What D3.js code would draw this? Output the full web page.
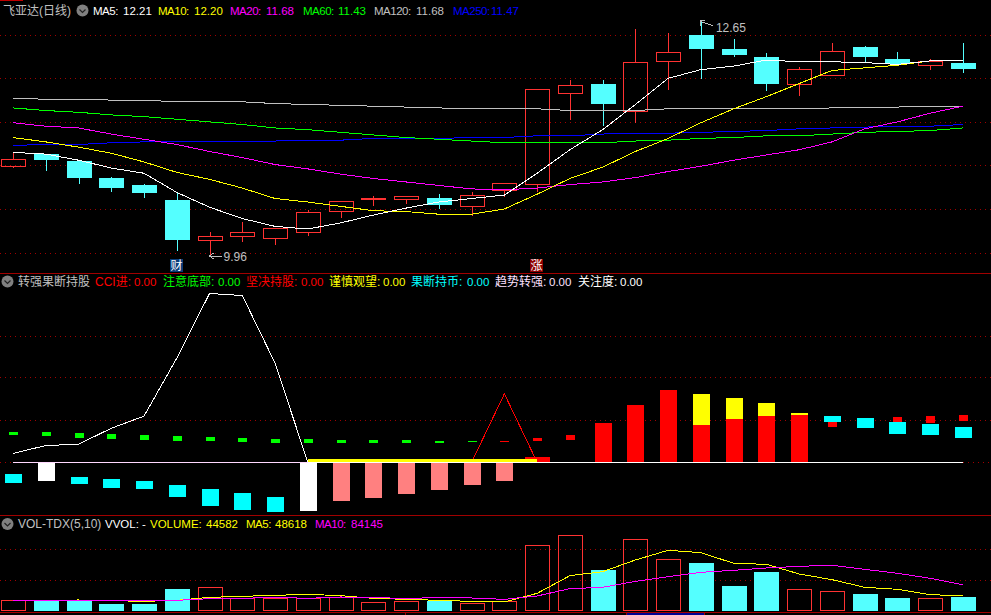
<!DOCTYPE html>
<html><head><meta charset="utf-8">
<script src="https://cdn.jsdelivr.net/npm/d3@7/dist/d3.min.js"></script>
<style>html,body{margin:0;padding:0;background:#000;overflow:hidden}svg{display:block}
text{font-family:"Liberation Sans","Noto Sans CJK SC",sans-serif;font-size:12px}</style>
</head><body><script>
const opens =[10.99,11.13,11.05,10.85,10.78,10.60,10.14,10.19,10.17,10.24,10.48,10.61,10.62,10.63,10.53,10.72,10.79,11.83,11.94,11.63,12.20,12.50,12.34,12.24,11.94,12.04,12.36,12.22,12.15,12.18];
const closes=[11.07,11.06,10.85,10.74,10.68,10.14,10.19,10.23,10.28,10.47,10.59,10.63,10.65,10.55,10.66,10.80,11.88,11.92,11.70,12.19,12.30,12.34,12.27,11.94,12.11,12.31,12.25,12.16,12.20,12.11];
const highs =[11.15,11.13,11.05,10.87,10.79,10.68,10.24,10.35,10.28,10.49,10.59,10.65,10.65,10.67,10.70,10.80,11.88,11.98,11.98,12.57,12.52,12.65,12.45,12.29,12.13,12.40,12.37,12.30,12.22,12.40];
const lows  =[10.97,10.94,10.79,10.70,10.63,10.02,9.96,10.12,10.09,10.19,10.40,10.53,10.56,10.50,10.42,10.64,10.70,11.52,11.45,11.49,11.87,11.99,12.24,11.85,11.80,12.04,12.19,12.16,12.09,12.06];
const ma5  =[11.15,11.13,11.06,10.97,10.91,10.69,10.52,10.39,10.30,10.27,10.34,10.43,10.51,10.58,10.62,10.66,10.91,11.18,11.41,11.70,12.00,12.10,12.14,12.21,12.19,12.19,12.18,12.16,12.20,12.21];
const ma10 =[11.32,11.27,11.21,11.14,11.04,10.92,10.84,10.74,10.62,10.58,10.53,10.48,10.47,10.44,10.44,10.50,10.67,10.85,10.98,11.16,11.31,11.49,11.65,11.79,11.94,12.09,12.12,12.15,12.20,12.20];
const ma20 =[11.49,11.45,11.43,11.36,11.30,11.24,11.16,11.09,11.01,10.96,10.90,10.85,10.81,10.77,10.73,10.72,10.74,10.78,10.81,10.86,10.93,10.99,11.06,11.12,11.18,11.27,11.42,11.50,11.60,11.68];
const ma60 =[11.66,11.63,11.61,11.58,11.56,11.53,11.50,11.47,11.43,11.41,11.38,11.35,11.32,11.30,11.28,11.26,11.26,11.26,11.26,11.28,11.29,11.31,11.32,11.34,11.34,11.36,11.38,11.39,11.40,11.43];
const ma120=[11.77,11.76,11.76,11.75,11.75,11.73,11.73,11.73,11.71,11.70,11.69,11.68,11.67,11.66,11.65,11.65,11.65,11.63,11.63,11.63,11.65,11.65,11.65,11.65,11.65,11.66,11.67,11.67,11.68,11.68];
const ma250=[11.23,11.24,11.24,11.26,11.27,11.27,11.27,11.28,11.28,11.29,11.29,11.31,11.31,11.31,11.32,11.32,11.34,11.34,11.36,11.37,11.37,11.38,11.39,11.40,11.42,11.43,11.44,11.45,11.45,11.47];
const priceGrid=[10,10.5,11,11.5,12,12.5];

const cciLine =[21,40,43,81,110,248,402,397,236,0];
const triangle=[[14,0],[15,163],[16,0]];
const yellowBandFrom=9, yellowBandTo=16, yellowBandValue=7;
// [bar index, low, high]
const greenSticks=[[0,65,72],[1,63,72],[2,58,70],[3,55,67],[4,53,65],[5,51,63],[6,51,60],[7,48,58],[8,46,55],[9,46,55],[10,46,53],[11,46,53],[12,46,53],[13,46,51],[14,49,51]];
const redSmall=[[15,49,51],[16,51,58],[17,53,65],[25,84,96],[27,96,108],[28,94,110],[29,98,113]];
const redMain=[[18,0,94],[19,0,136],[20,0,172],[21,0,89],[22,0,103],[23,0,110],[24,0,113]];
const redBlock=[[16,0,12]];
const yellowMain=[[21,89,163],[22,103,153],[23,110,141],[24,113,117]];
const cyanSticks=[[0,-49,-28],[2,-52,-35],[3,-61,-40],[4,-64,-45],[5,-83,-54],[6,-104,-64],[7,-114,-73],[8,-118,-83],[25,96,110],[26,82,105],[27,67,96],[28,65,91],[29,58,84]];
const whiteSticks=[[1,-45,0],[9,-116,0]];
const pinkSticks=[[10,-92,0],[11,-85,0],[12,-75,0],[13,-66,0],[14,-54,0],[15,-45,0]];
const cciGrid=[100,202,301];

const volume=[34100,32000,33000,22400,22400,70400,75700,41600,41600,41600,44800,27700,30900,32000,24500,30900,210100,242100,131200,229300,165300,153600,80000,124800,69300,62900,54400,41600,40500,44582];
const volMa5=[34100,34100,35200,33100,30900,34100,43700,46900,50100,53300,49100,40500,37300,34100,30900,28800,56600,113100,125900,163300,194200,186700,152600,149400,118400,100300,75800,69400,52300,48618];
const volMa10=[33100,33100,34100,33100,33100,34100,39500,40500,43700,40500,44800,43700,39500,43700,41600,37300,48000,71500,75800,95000,109900,123800,130200,137600,143000,146200,133400,120600,104600,84145];
const volGrid=[98000,197000];

const W=991,H=615;
const svg=d3.select("body").append("svg").attr("width",W).attr("height",H).style("background","#000");
const C={red:"#ff3232",cyan:"#54ffff",grid:"#a00000",sep:"#a00000",gray:"#c0c0c0"};
const idx=d3.range(30);
const x=d3.scaleLinear().domain([0,29]).range([13,963]);
const px=i=>Math.round(x(i));
const yP=d3.scaleLinear().domain([9.96,12.65]).range([256,21.7]);
const yC=d3.scaleLinear().domain([0,300]).range([462.3,336.3]);
const yV=d3.scaleLinear().domain([0,320000]).range([611,511]);
const crisp=g=>g.attr("shape-rendering","crispEdges");

function hgrid(vals,y,x1,x2){
  crisp(svg.append("g")).selectAll("line").data(vals).join("line")
   .attr("x1",x1).attr("x2",x2).attr("y1",d=>Math.round(y(d))+.5).attr("y2",d=>Math.round(y(d))+.5)
   .attr("stroke",C.grid).attr("stroke-dasharray","1 4");
}
hgrid(priceGrid,yP,0,W); hgrid(cciGrid,yC,0,W); hgrid(volGrid,yV,0,W);
hgrid([0],yC,0,13); hgrid([0],yC,963,W);

// separators
crisp(svg.append("g")).selectAll("line").data([273,515,612]).join("line")
 .attr("x1",0).attr("x2",W).attr("y1",d=>d+.5).attr("y2",d=>d+.5).attr("stroke",C.sep);
crisp(svg.append("g")).call(g=>{
 g.append("line").attr("x1",0).attr("x2",23).attr("y1",.5).attr("y2",.5).attr("stroke","#c00000");
 g.append("line").attr("x1",405.5).attr("x2",405.5).attr("y1",612).attr("y2",615).attr("stroke",C.sep);
 g.append("rect").attr("x",627).attr("y",613).attr("width",77).attr("height",2).attr("fill","#000090");
 g.append("line").attr("x1",626.5).attr("x2",626.5).attr("y1",612).attr("y2",615).attr("stroke",C.sep);
 g.append("line").attr("x1",704.5).attr("x2",704.5).attr("y1",612).attr("y2",615).attr("stroke",C.sep);
});

// candles
const cg=crisp(svg.append("g"));
idx.forEach(i=>{
  const up=closes[i]>=opens[i], col=up?C.red:C.cyan, cx=px(i)+.5;
  const top=Math.round(yP(Math.max(opens[i],closes[i]))), bot=Math.round(yP(Math.min(opens[i],closes[i])));
  cg.append("line").attr("x1",cx).attr("x2",cx).attr("y1",yP(highs[i])).attr("y2",top).attr("stroke",col);
  cg.append("line").attr("x1",cx).attr("x2",cx).attr("y1",bot).attr("y2",yP(lows[i])).attr("stroke",col);
  const r=cg.append("rect").attr("x",cx-12).attr("y",top+(up?.5:0)).attr("width",up?24:25).attr("height",bot-top);
  if(up) r.attr("fill","none").attr("stroke",col); else r.attr("x",cx-12.5).attr("fill",col);
});
const line=(data,xf,yf)=>d3.line().x((d,i)=>xf(i)).y(yf)(data);
[[ma120,"#c0c0c0"],[ma250,"#0000ff"],[ma60,"#00ff00"],[ma20,"#ff00ff"],[ma10,"#ffff00"],[ma5,"#ffffff"]].forEach(([d,c])=>{
  svg.append("path").attr("d",line(d,x,yP)).attr("fill","none").attr("stroke",c).attr("stroke-width",1).attr("shape-rendering","crispEdges");
});

// annotations
const ann=svg.append("g").attr("stroke",C.gray).attr("fill","none").attr("shape-rendering","crispEdges");
ann.append("path").attr("d",`M${x(6)} ${yP(9.96)}H${x(6)+12}M${x(6)+4} ${yP(9.96)-3}L${x(6)} ${yP(9.96)}L${x(6)+4} ${yP(9.96)+3}`);
ann.append("path").attr("d",`M${x(21)} ${yP(12.65)}L${x(21)+12} ${yP(12.65)+4}M${x(21)+4} ${yP(12.65)-1}H${x(21)}V${yP(12.65)+4}`);
svg.append("text").attr("x",x(6)+14).attr("y",yP(9.96)+5).attr("fill",C.gray).text("9.96");
svg.append("text").attr("x",x(21)+15).attr("y",yP(12.65)+10).attr("fill",C.gray).text("12.65");

// badges
[["财",5,"#0a3c78","#ffffff"],["涨",16,"#8c0000","#ffffff"]].forEach(([t,i,bg,fg])=>{
  svg.append("rect").attr("x",px(i)-7).attr("y",259).attr("width",13).attr("height",13).attr("fill",bg);
  svg.append("text").attr("x",px(i)-6.5).attr("y",270).attr("fill",fg).text(t);
});

// indicator panel
svg.append("path").attr("d",d3.line().x(d=>x(d[0])).y(d=>yC(d[1]))(triangle)).attr("fill","none").attr("stroke","#ff0000").attr("shape-rendering","crispEdges");
function sticks(data,w,col){
  crisp(svg.append("g")).selectAll("rect").data(data).join("rect")
   .attr("x",d=>px(d[0])-Math.floor(w/2)).attr("width",w)
   .attr("y",d=>Math.round(yC(d[2]))).attr("height",d=>Math.max(1,Math.round(yC(d[1]))-Math.round(yC(d[2]))))
   .attr("fill",col);
}
sticks(greenSticks,9,"#00ff00");
sticks(redSmall,9,"#ff0000");
sticks(redMain,17,"#ff0000");
sticks(yellowMain,17,"#ffff00");
sticks(redBlock,25,"#ff0000");
sticks(cyanSticks,17,"#00ffff");
sticks(whiteSticks,17,"#ffffff");
sticks(pinkSticks,17,"#ff8080");
crisp(svg.append("g")).call(g=>{
  g.append("rect").attr("x",x(yellowBandFrom)).attr("width",x(yellowBandTo)-x(yellowBandFrom))
   .attr("y",yC(yellowBandValue)).attr("height",yC(0)-yC(yellowBandValue)).attr("fill","#ffff00");
  g.append("line").attr("x1",x(0)).attr("x2",x(9)).attr("y1",Math.round(yC(0))+.5).attr("y2",Math.round(yC(0))+.5).attr("stroke","#ffd8ff");
  g.append("line").attr("x1",x(9)).attr("x2",x(29)).attr("y1",Math.round(yC(0))+.5).attr("y2",Math.round(yC(0))+.5).attr("stroke","#ffffff");
});
svg.append("path").attr("d",line(cciLine,x,yC)).attr("fill","none").attr("stroke","#fff").attr("shape-rendering","crispEdges");

// volume panel
const vg=crisp(svg.append("g"));
idx.forEach(i=>{
  const up=closes[i]>=opens[i], cx=px(i)+.5, t=Math.round(yV(volume[i]));
  if(up) vg.append("rect").attr("x",cx-12).attr("y",t+.5).attr("width",24).attr("height",611-t-1).attr("fill","none").attr("stroke",C.red);
  else vg.append("rect").attr("x",cx-12.5).attr("y",t).attr("width",25).attr("height",611-t).attr("fill",C.cyan);
});
[[volMa5,"#ffff00"],[volMa10,"#ff00ff"]].forEach(([d,c])=>{
  svg.append("path").attr("d",line(d,x,yV)).attr("fill","none").attr("stroke",c).attr("shape-rendering","crispEdges");
});

// legends
const legendRows=[
 [15,[[3,"飞亚达(日线)",C.gray],[93,"MA5:","#fff"],[123,"12.21","#fff"],[158,"MA10:","#ff0"],[194,"12.20","#ff0"],[230,"MA20:","#f0f"],[266,"11.68","#f0f"],[303,"MA60:","#0f0"],[338,"11.43","#0f0"],[374,"MA120:",C.gray],[416,"11.68",C.gray],[453,"MA250:","#00f"],[491,"11.47","#00f"]]],
 [286,[[18,"转强果断持股",C.gray],[95,"CCI进:","#f00"],[134,"0.00","#f00"],[163,"注意底部:","#0f0"],[218,"0.00","#0f0"],[246,"坚决持股:","#f00"],[301,"0.00","#f00"],[329,"谨慎观望:","#ff0"],[383,"0.00","#ff0"],[411,"果断持币:","#0ff"],[467,"0.00","#0ff"],[495,"趋势转强:","#ffe0ff"],[549,"0.00","#ffe0ff"],[578,"关注度:","#fff"],[620,"0.00","#fff"]]],
 [528,[[18,"VOL-TDX(5,10)",C.gray],[105,"VVOL: -","#fff"],[150,"VOLUME:","#ff0"],[206,"44582","#ff0"],[246,"MA5:","#ff0"],[275,"48618","#ff0"],[315,"MA10:","#f0f"],[351,"84145","#f0f"]]]
];
legendRows.forEach(([y,items])=>{
  svg.append("g").selectAll("text").data(items).join("text")
   .attr("x",d=>d[0]).attr("y",y).attr("fill",d=>d[2])
   .style("font-size",d=>/^VOL-/.test(d[1])?"12px":/^[\x20-\x7e]+$/.test(d[1])?"11.5px":null)
   .style("letter-spacing",d=>/^MA/.test(d[1])?"-0.5px":null)
   .text(d=>d[1]);
});
[[82.5,10.5],[7.5,281.5],[7.5,524]].forEach(([cx,cy])=>{
  svg.append("circle").attr("cx",cx).attr("cy",cy).attr("r",6).attr("fill","#808080");
  svg.append("path").attr("d",`M${cx-3} ${cy-1}L${cx} ${cy+2}L${cx+3} ${cy-1}`).attr("fill","none").attr("stroke","#222").attr("stroke-width",1.2);
});
</script></body></html>
